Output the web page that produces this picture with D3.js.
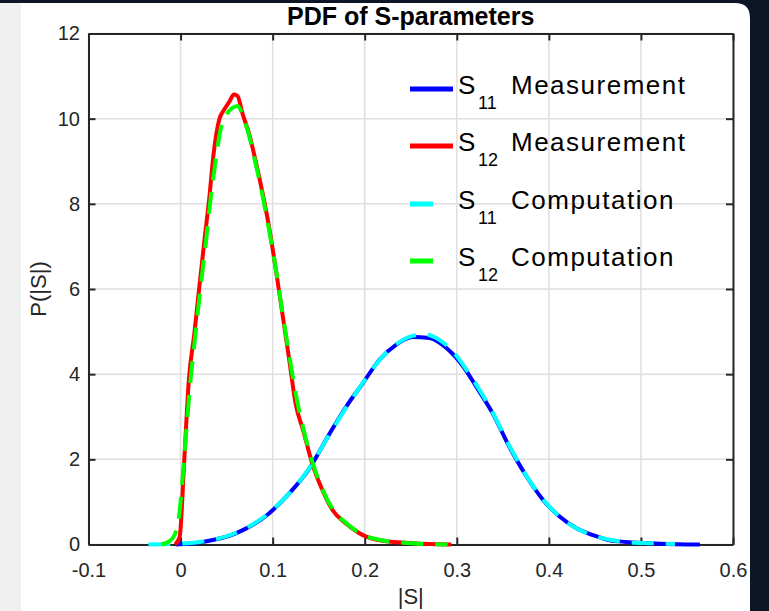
<!DOCTYPE html>
<html>
<head>
<meta charset="utf-8">
<script src="https://cdn.jsdelivr.net/npm/d3@7"></script>
<style>
  body { margin: 0; background: #0c1627; }
  svg { display: block; font-family: "Liberation Sans", Arial, Helvetica, sans-serif; }
</style>
</head>
<body>
<svg id="chart"></svg>
<script>
var screen = {width:769, height:611}
var margins = {top:33.5, right:36, bottom:66.5, left:88.5}

// tick values
var xTicks = [-0.1, 0, 0.1, 0.2, 0.3, 0.4, 0.5, 0.6]
var yTicks = [0, 2, 4, 6, 8, 10, 12]

// curves: [|S|, P(|S|)]
var s11Meas = [[-0.005,0],[0.024,0.06],[0.060,0.26],[0.096,0.73],[0.118,1.2],[0.140,1.79],
  [0.162,2.61],[0.180,3.24],[0.198,3.79],[0.216,4.34],[0.234,4.69],[0.252,4.87],[0.270,4.85],
  [0.289,4.61],[0.307,4.18],[0.321,3.71],[0.339,3.08],[0.357,2.30],[0.376,1.59],[0.394,1.04],
  [0.412,0.65],[0.430,0.38],[0.448,0.22],[0.466,0.10],[0.484,0.06],[0.521,0.02],[0.564,0]]

var s12Meas = [[-0.006,0],[-0.001,0.18],[0.004,1.98],[0.009,3.87],[0.015,4.96],[0.020,5.98],
  [0.026,7.16],[0.031,8.1],[0.036,9.2],[0.042,9.98],[0.047,10.2],[0.053,10.4],[0.058,10.57],
  [0.062,10.53],[0.067,10.14],[0.075,9.6],[0.082,8.96],[0.089,8.26],[0.096,7.47],[0.104,6.38],
  [0.111,5.36],[0.118,4.34],[0.125,3.3],[0.133,2.69],[0.143,1.9],[0.154,1.28],[0.165,0.81],
  [0.180,0.49],[0.198,0.22],[0.216,0.10],[0.252,0.03],[0.294,0]]

var s11Comp = [[-0.035,0],[0.0,0.02],[0.024,0.07],[0.060,0.27],[0.096,0.74],[0.118,1.2],
  [0.140,1.8],[0.162,2.6],[0.180,3.22],[0.198,3.8],[0.216,4.33],[0.234,4.7],[0.252,4.9],
  [0.266,4.93],[0.280,4.82],[0.295,4.55],[0.310,4.12],[0.325,3.62],[0.339,3.1],[0.357,2.32],
  [0.376,1.6],[0.394,1.05],[0.412,0.65],[0.430,0.38],[0.448,0.21],[0.466,0.11],[0.484,0.06],
  [0.510,0.03],[0.537,0.01]]

var s12Comp = [[-0.021,0],[-0.012,0.08],[-0.006,0.25],[-0.002,0.6],[0.002,1.5],[0.006,2.6],
  [0.011,3.9],[0.016,4.9],[0.021,5.9],[0.027,7.0],[0.032,8.0],[0.038,9.0],[0.044,9.8],
  [0.050,10.1],[0.056,10.25],[0.062,10.3],[0.068,10.05],[0.075,9.55],[0.082,8.9],[0.089,8.2],
  [0.096,7.4],[0.104,6.4],[0.111,5.4],[0.118,4.45],[0.125,3.55],[0.133,2.75],[0.143,1.95],
  [0.154,1.3],[0.165,0.84],[0.180,0.5],[0.198,0.23],[0.216,0.11],[0.250,0.03],[0.290,0]]

var seriesNames = ["Measurement","Measurement","Computation","Computation"]
var seriesSubs = ["11","12","11","12"]
var seriesColors = ["#0000ff","#ff0000","#00ffff","#00ff00"]
var seriesDashed = [false,false,true,true]
var seriesData = [s11Meas, s12Meas, s11Comp, s12Comp]

var svg = d3.select("#chart")
    .attr("width",screen.width)
    .attr("height",screen.height)

// window background
svg.append("rect").attr("width",screen.width).attr("height",screen.height).attr("fill","#0c1627")
svg.append("rect").attr("x",0).attr("y",3).attr("width",21).attr("height",screen.height).attr("fill","#f0f0f0")
var r = 15
svg.append("path")
    .attr("d","M21,3 H"+(750-r)+" Q750,3 750,"+(3+r)+" V"+screen.height+" H21 Z")
    .attr("fill","#ffffff")

var width = screen.width - margins.left - margins.right
var height = screen.height - margins.top - margins.bottom

var xScale = d3.scaleLinear().domain([-0.1,0.6]).range([0,width])
var yScale = d3.scaleLinear().domain([0,12]).range([height,0])

var g = svg.append("g")
    .attr("transform","translate("+margins.left+","+margins.top+")")

// grid
g.append("g").selectAll("line").data(xTicks).enter().append("line")
    .attr("x1",function(d){return xScale(d)}).attr("x2",function(d){return xScale(d)})
    .attr("y1",0).attr("y2",height)
    .attr("stroke","#dfdfdf").attr("stroke-width",1.5)
g.append("g").selectAll("line").data(yTicks).enter().append("line")
    .attr("y1",function(d){return yScale(d)}).attr("y2",function(d){return yScale(d)})
    .attr("x1",0).attr("x2",width)
    .attr("stroke","#dfdfdf").attr("stroke-width",1.5)

// axes, inward ticks on all four sides (plain hyphen for negatives, like MATLAB)
var fmt = function(d){ return String(+d.toFixed(1)) }
var xAxis = d3.axisBottom(xScale).tickValues(xTicks).tickFormat(fmt).tickSizeInner(-7).tickSizeOuter(0).tickPadding(18)
var yAxis = d3.axisLeft(yScale).tickValues(yTicks).tickSizeInner(-7).tickSizeOuter(0).tickPadding(8.5)
var xTop = d3.axisTop(xScale).tickValues(xTicks).tickFormat("").tickSizeInner(-7).tickSizeOuter(0)
var yRight = d3.axisRight(yScale).tickValues(yTicks).tickFormat("").tickSizeInner(-7).tickSizeOuter(0)

g.append("g").attr("transform","translate(0,"+height+")").call(xAxis)
g.append("g").call(yAxis)
g.append("g").call(xTop)
g.append("g").attr("transform","translate("+width+",0)").call(yRight)

g.selectAll(".tick line").attr("stroke","#262626").attr("stroke-width",2)
g.selectAll(".domain").attr("stroke","#262626").attr("stroke-width",2)
g.selectAll(".tick text").attr("fill","#262626").style("font-size","20px")
    .style("font-family","'Liberation Sans', Arial, sans-serif")

// curves
var line = d3.line()
    .x(function(d){return xScale(d[0])})
    .y(function(d){return yScale(d[1])})
    .curve(d3.curveMonotoneX)

g.append("g").selectAll("path").data(seriesData).enter().append("path")
    .attr("d",line)
    .attr("fill","none")
    .attr("stroke",function(d,i){return seriesColors[i]})
    .attr("stroke-width",4)
    .attr("stroke-dasharray",function(d,i){return seriesDashed[i] ? "22,12" : null})

// title and labels
svg.append("text").attr("x",margins.left+width/2).attr("y",25)
    .attr("text-anchor","middle").style("font-size","25px").style("font-weight","bold")
    .attr("fill","#000").text("PDF of S-parameters")
svg.append("text").attr("x",margins.left+width/2).attr("y",604)
    .attr("text-anchor","middle").style("font-size","22px").attr("fill","#262626").text("|S|")
svg.append("text").attr("transform","translate(46,"+(margins.top+height/2)+") rotate(-90)")
    .attr("text-anchor","middle").style("font-size","22px").attr("fill","#262626").text("P(|S|)")

// legend
var legendY = [89,146,204,261]
var leg = svg.append("g").selectAll("g").data(seriesNames).enter().append("g")
    .attr("transform",function(d,i){return "translate(410,"+legendY[i]+")"})
leg.append("line")
    .attr("x1",0).attr("x2",function(d,i){return seriesDashed[i] ? 23 : 43})
    .attr("y1",0).attr("y2",0)
    .attr("stroke",function(d,i){return seriesColors[i]})
    .attr("stroke-width",5)
var lt = leg.append("text").attr("fill","#000").style("font-size","26px")
lt.append("tspan").attr("x",48).attr("y",4.5).text("S")
lt.append("tspan").attr("x",68).attr("y",19.5).style("font-size","18px").text(function(d,i){return seriesSubs[i]})
lt.append("tspan").attr("x",101).attr("y",4.5).style("letter-spacing","1.5px").text(function(d){return d})
</script>
</body>
</html>
